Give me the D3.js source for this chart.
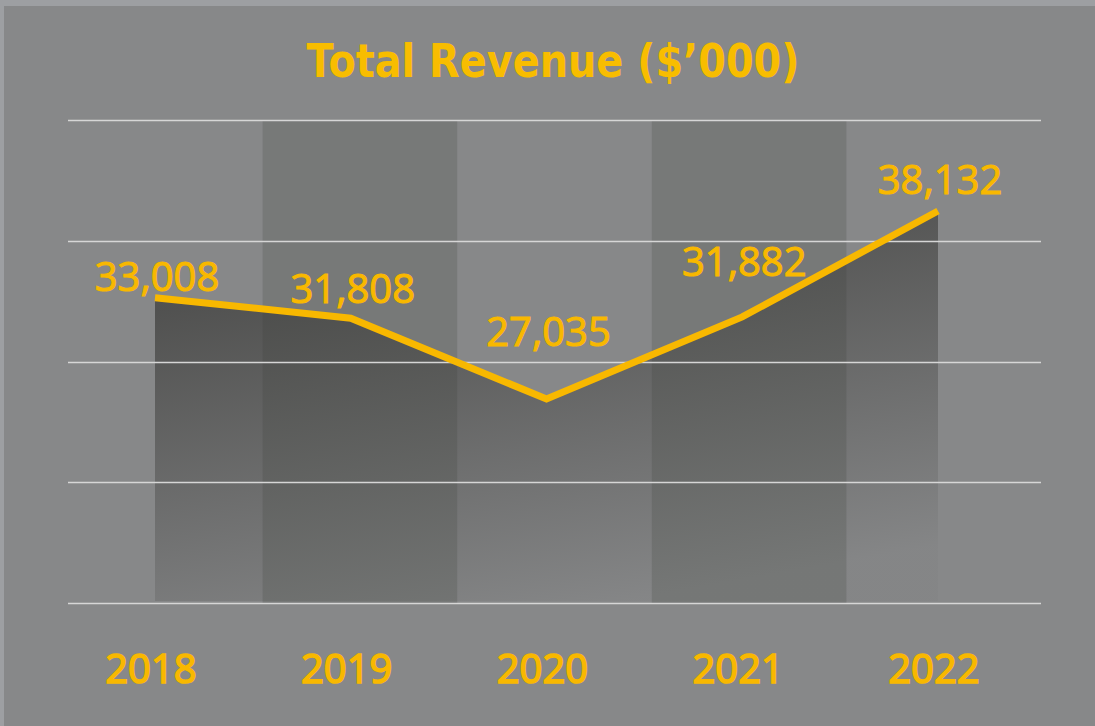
<!DOCTYPE html>
<html>
<head>
<meta charset="utf-8">
<script src="https://cdn.jsdelivr.net/npm/d3@7"></script>
<style>
  html, body { margin: 0; padding: 0; background: #9d9fa2; }
  #vis-display { width: 1095px; height: 726px; }
</style>
</head>
<body>
<div id="vis-display"></div>
<script>
// Total revenue line over alternating column bands, dark fade under the line.

const years    = ["2018", "2019", "2020", "2021", "2022"];
const revenue  = [33008, 31808, 27035, 31882, 38132];
const yDomain  = [15000, 43500];   // no tick labels shown, only 5 gridlines
const title    = "Total Revenue ($\u2019000)";

const W = 1095, H = 726;
const YELLOW = "#f8b800";
const BG     = "#878889";

const svg = d3.select("#vis-display").append("svg")
  .attr("width", W)
  .attr("height", H);

// frame: light strip along top/left, then the grey panel
svg.append("rect").attr("width", W).attr("height", H).attr("fill", "#9d9fa2");
svg.append("rect").attr("x", 4).attr("y", 6).attr("width", W - 4).attr("height", H - 6).attr("fill", BG);

// ── Scales ────────────────────────────────────────────────────────────────
const plot = { left: 68, right: 1041, top: 120, bottom: 603 };

const band = d3.scaleBand().domain(years).range([plot.left, plot.right]);
const x    = d3.scalePoint().domain(years).range([155, 938]);
const y    = d3.scaleLinear().domain(yDomain).range([plot.bottom, plot.top]);

const data = years.map((yr, i) => ({ year: yr, value: revenue[i] }));

// ── Bands (every other column darker) ─────────────────────────────────────
svg.append("g")
  .selectAll("rect")
  .data(years.filter((d, i) => i % 2 === 1))
  .join("rect")
    .attr("x", d => band(d))
    .attr("y", plot.top)
    .attr("width", band.bandwidth())
    .attr("height", plot.bottom - plot.top)
    .attr("fill", "#4f524b")
    .attr("opacity", 0.27);

// ── Area under the line ───────────────────────────────────────────────────
const defs = svg.append("defs");
const grad = defs.append("linearGradient")
  .attr("id", "fade")
  .attr("x1", 0.3).attr("y1", 0.15)
  .attr("x2", 0.6).attr("y2", 1);
grad.append("stop").attr("offset", 0).attr("stop-color", "#383836").attr("stop-opacity", 0.68);
grad.append("stop").attr("offset", 1).attr("stop-color", "#383836").attr("stop-opacity", 0.03);

svg.append("path")
  .datum(data)
  .attr("fill", "url(#fade)")
  .attr("d", d3.area()
    .x(d => x(d.year))
    .y0(y(yDomain[0]) - 2)
    .y1(d => y(d.value)));

// ── Gridlines ─────────────────────────────────────────────────────────────
const gridVals = d3.range(5).map(i => yDomain[0] + i * (yDomain[1] - yDomain[0]) / 4);
svg.append("g")
  .selectAll("line")
  .data(gridVals)
  .join("line")
    .attr("x1", plot.left)
    .attr("x2", plot.right)
    .attr("y1", d => Math.round(y(d)) + 0.5)
    .attr("y2", d => Math.round(y(d)) + 0.5)
    .attr("stroke", "#d6d6d6")
    .attr("stroke-width", 1.5);

// ── Line ──────────────────────────────────────────────────────────────────
svg.append("path")
  .datum(data)
  .attr("fill", "none")
  .attr("stroke", YELLOW)
  .attr("stroke-width", 7)
  .attr("stroke-linejoin", "miter")
  .attr("d", d3.line().x(d => x(d.year)).y(d => y(d.value)));

// ── Value labels (hand-nudged above each point, as in the original) ──────
// a thin same-colour stroke fakes the semibold weight
const labelLift = [7, 15, 53, 41, 17];
svg.append("g")
  .selectAll("text")
  .data(data)
  .join("text")
    .attr("x", d => x(d.year) + 2)
    .attr("y", (d, i) => y(d.value) - labelLift[i])
    .attr("text-anchor", "middle")
    .attr("fill", YELLOW)
    .attr("stroke", YELLOW)
    .attr("stroke-width", 1.1)
    .style("font-family", "'Open Sans', sans-serif")
    .style("font-size", "40px")
    .text(d => d3.format(",")(d.value));

// ── Year labels ───────────────────────────────────────────────────────────
svg.append("g")
  .selectAll("text")
  .data(years)
  .join("text")
    .attr("x", d => x(d) - 4)
    .attr("y", 683)
    .attr("text-anchor", "middle")
    .attr("fill", YELLOW)
    .attr("stroke", YELLOW)
    .attr("stroke-width", 1.7)
    .style("font-family", "'Open Sans', sans-serif")
    .style("font-size", "40px")
    .text(d => d);

// ── Title — squeezed horizontally to mimic the condensed face ───────────
const titleText = svg.append("text")
  .attr("text-anchor", "middle")
  .style("font-family", "'DejaVu Sans', sans-serif")
  .style("font-weight", 700)
  .style("font-size", "47px")
  .style("fill", "#f8bd00")
  .text(title);
const tw = titleText.node().getComputedTextLength() || 493;
titleText.attr("transform", `translate(553,77) scale(${493 / tw},1)`);
</script>
</body>
</html>
